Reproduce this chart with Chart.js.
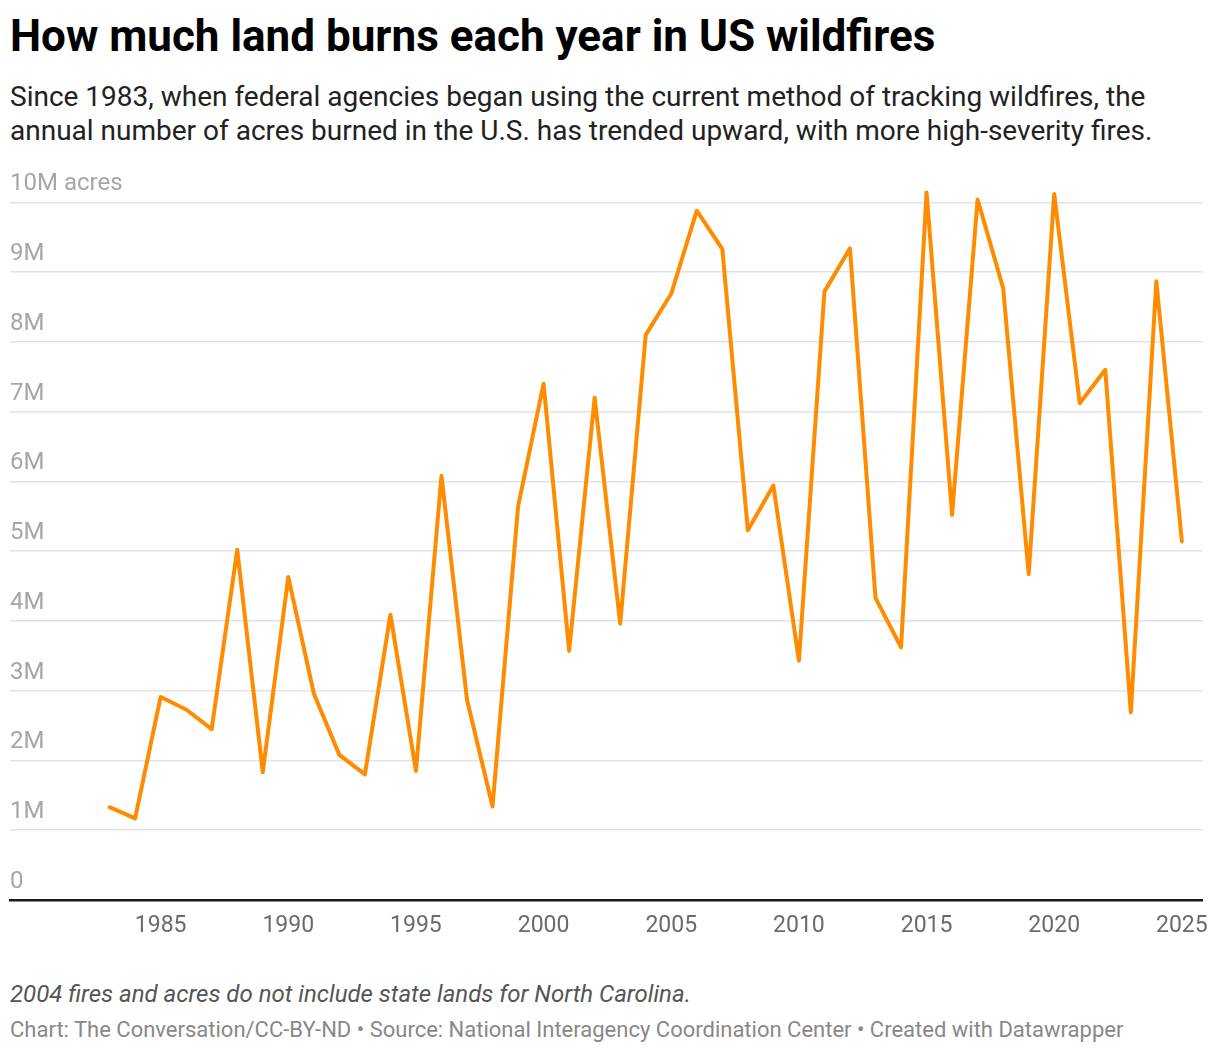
<!DOCTYPE html>
<html>
<head>
<meta charset="utf-8">
<script src="https://cdn.jsdelivr.net/npm/chart.js@4.4.1/dist/chart.umd.min.js"></script>
<style>
    html, body { margin: 0; padding: 0; background: #fff; }
    body { width: 1220px; height: 1054px; position: relative; font-family: Roboto, sans-serif; overflow: hidden; }
    .title { position: absolute; left: 10px; top: 10px; font-size: 44px; line-height: 52px; font-weight: 700; color: #000; white-space: nowrap; }
    .subtitle { position: absolute; left: 10px; top: 80px; font-size: 28px; line-height: 34px; color: #222; white-space: nowrap; }
    .chart-wrap { position: absolute; left: 0; top: 160px; width: 1220px; height: 780px; }
    .note { position: absolute; left: 10px; top: 980px; font-size: 24px; line-height: 28px; font-style: italic; color: #555; white-space: nowrap; }
    .credits { position: absolute; left: 10px; top: 1016px; font-size: 22px; line-height: 28px; color: #888; white-space: nowrap; }
</style>
</head>
<body>
<div class="title">How much land burns each year in US wildfires</div>
<div class="subtitle">Since 1983, when federal agencies began using the current method of tracking wildfires, the<br>annual number of acres burned in the U.S. has trended upward, with more high-severity fires.</div>
<div class="chart-wrap"><canvas id="fireChart"></canvas></div>
<div class="note">2004 fires and acres do not include state lands for North Carolina.</div>
<div class="credits">Chart: The Conversation/CC-BY-ND • Source: National Interagency Coordination Center • Created with Datawrapper</div>

<script>
/*==============================================================
    DATA
==============================================================*/
const years = [
    1983, 1984, 1985, 1986, 1987, 1988, 1989, 1990, 1991, 1992,
    1993, 1994, 1995, 1996, 1997, 1998, 1999, 2000, 2001, 2002,
    2003, 2004, 2005, 2006, 2007, 2008, 2009, 2010, 2011, 2012,
    2013, 2014, 2015, 2016, 2017, 2018, 2019, 2020, 2021, 2022,
    2023, 2024, 2025
];

// millions of acres burned
const acresBurned = [
    1.33, 1.17, 2.91, 2.73, 2.45, 5.02, 1.83, 4.63, 2.96, 2.08,
    1.80, 4.09, 1.85, 6.08, 2.87, 1.34, 5.64, 7.40, 3.57, 7.20,
    3.96, 8.10, 8.69, 9.88, 9.33, 5.30, 5.94, 3.43, 8.72, 9.34,
    4.33, 3.62, 10.14, 5.52, 10.04, 8.77, 4.67, 10.12, 7.12, 7.60,
    2.69, 8.87, 5.14
];

const xTicks = [1985, 1990, 1995, 2000, 2005, 2010, 2015, 2020, 2025];
const yTicks = [0, 1, 2, 3, 4, 5, 6, 7, 8, 9, 10];

/*==============================================================
    CHART
==============================================================*/
function drawFireChart() {
    const ctx = document.getElementById("fireChart");
    if (!ctx) return;
    new Chart(ctx, {
        type: "line",
        data: {
            datasets: [{
                data: years.map((y, i) => ({ x: y, y: acresBurned[i] })),
                borderColor: "#ff8c00",
                borderWidth: 4,
                pointRadius: 0,
                tension: 0,
                fill: false,
                borderJoinStyle: "round",
                borderCapStyle: "round"
            }]
        },
        options: {
            responsive: true,
            maintainAspectRatio: false,
            animation: false,
            layout: {
                padding: { top: 12, left: 10, right: 16, bottom: 0 }
            },
            plugins: {
                legend: { display: false },
                tooltip: { enabled: false }
            },
            scales: {
                x: {
                    type: "linear",
                    min: 1979.1,
                    max: 2025.82,
                    afterBuildTicks: s => { s.ticks = xTicks.map(v => ({ value: v })); },
                    afterFit: s => { s.height = 40; },
                    grid: { display: false, drawTicks: false },
                    border: { display: true, color: "#1a1a1a", width: 2.5 },
                    ticks: {
                        padding: 12,
                        color: "#6b6b6b",
                        font: { family: "Roboto", size: 23 },
                        maxRotation: 0,
                        callback: v => String(v)
                    }
                },
                y: {
                    min: 0,
                    max: 10.4,
                    afterBuildTicks: s => { s.ticks = yTicks.map(v => ({ value: v })); },
                    afterFit: s => { s.width = 0; },
                    grid: { color: "#e3e3e3", lineWidth: 1.5, drawTicks: false },
                    border: { display: false },
                    ticks: {
                        mirror: true,
                        padding: 0,
                        labelOffset: -18,
                        color: "#a6a6a6",
                        font: { family: "Roboto", size: 24 },
                        callback: v => v === 10 ? "10M acres" : (v === 0 ? "0" : v + "M")
                    }
                }
            }
        }
    });
}

drawFireChart();
</script>
</body>
</html>
